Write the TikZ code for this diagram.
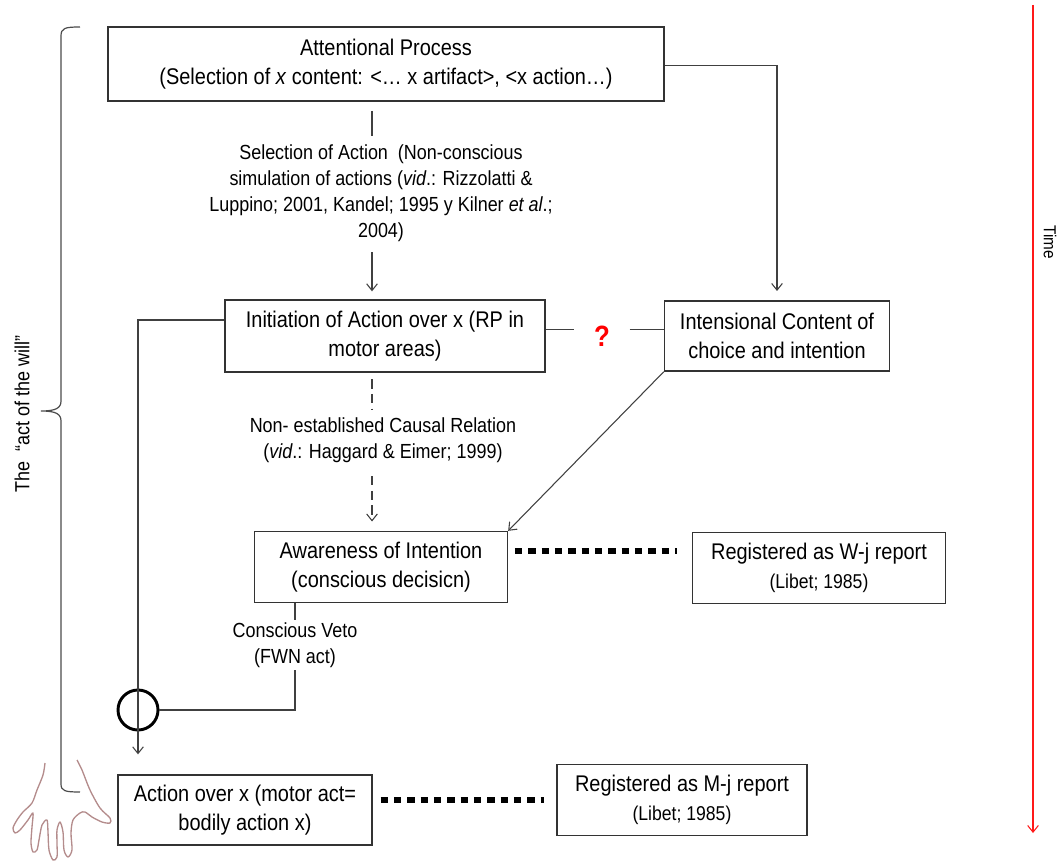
\documentclass[tikz,border=0pt]{standalone}
\usepackage{fontspec}
\setmainfont[FakeStretch=0.88]{Liberation Sans}
\usetikzlibrary{arrows.meta}

\newcommand{\boxfont}{\fontsize{17}{22}\selectfont}
\newcommand{\lblfont}{\fontsize{15.3}{19.5}\selectfont}
\newcommand{\citefont}{\fontsize{15}{18.5}\selectfont}

\begin{document}
\begin{tikzpicture}
[x=0.75pt,y=-0.75pt,
  >={Straight Barb[length=5pt,width=8pt]},
  plainLine/.style={line width=0.8pt,draw=black!75},
  darkArrow/.style={->,line width=0.8pt,draw=black!75},
  dashArrow/.style={line width=0.8pt,draw=black!75,dash pattern=on 7pt off 4pt},
  dotLine/.style={line width=4.5pt,draw=black,dash pattern=on 5.5pt off 4.5pt},
  boxDecorate/.style={draw=black!80,line width=1pt,fill=white,align=center,inner sep=0pt,font=\boxfont},
  labelDecorate/.style={align=center,inner sep=2pt,font=\lblfont},
  gateDecorate/.style={shape=circle,draw=black,line width=2.2pt,minimum size=30pt,inner sep=0pt},
  timeArrow/.style={->,line width=0.8pt,draw=red!90!white},
  braceLine/.style={line width=0.9pt,draw=black!70},
  handLine/.style={line width=1pt,draw={rgb,255:red,180;green,140;blue,140},line join=round}]
\useasboundingbox (0,0) rectangle (1063,862);
%% boxes
\foreach \nodename/\x/\y/\w/\h/\txt in {
  attn/386/64/556/74/{Attentional Process\\(Selection of \textit{x} content: <… x artifact>, <x action…)},
  init/385/336/320/72/{Initiation of Action over x (RP in\\motor areas)},
  intens/777/336/225/70/{Intensional Content of\\choice and intention},
  aware/381/567/253/71/{Awareness of Intention\\(conscious decisicn)},
  wj/819/568/253/71/{Registered as W-j report\\{\citefont(Libet; 1985)}},
  action/245/810/254/70/{Action over x (motor act=\\bodily action x)},
  mj/682/800/250/71/{Registered as M-j report\\{\citefont(Libet; 1985)}}}
{
  \node (\nodename) at (\x,\y) [boxDecorate,minimum width=\w*0.75pt,minimum height=\h*0.75pt] {\txt};
}
%% labels on the connectors
\foreach \nodename/\x/\y/\txt in {
  selLbl/381/193/{Selection of Action\ \ (Non-conscious\\simulation of actions (\textit{vid}.: Rizzolatti \&\\Luppino; 2001, Kandel; 1995 y Kilner \textit{et al}.;\\2004)},
  causLbl/383/440/{Non- established Causal Relation\\(\textit{vid}.: Haggard \& Eimer; 1999)},
  vetoLbl/295/645/{Conscious Veto\\(FWN act)}}
{
  \node (\nodename) at (\x,\y) [labelDecorate] {\txt};
}
\node (qmark) at (602,336) [minimum width=41pt,inner sep=0pt,text=red,font=\fontsize{22}{22}\bfseries] {?};
\node (gate) at (138,710) [gateDecorate] {};
\coordinate (spine) at (372,0);
%% plain and dashed connectors
\draw[plainLine] ([yshift=-7pt]attn.south -| spine) -- ([yshift=4pt]selLbl.north -| spine);
\draw[darkArrow,shorten >=6pt] ([yshift=-6pt]selLbl.south -| spine) -- (init.north -| spine);
\draw[darkArrow,shorten >=7pt] ([yshift=-1pt]attn.east) -| (intens.north);
\draw[plainLine] ([yshift=5pt]init.east) -- ([yshift=5pt]qmark.west);
\draw[plainLine] ([yshift=5pt]qmark.east) -- ([yshift=5pt]intens.west);
\draw[dashArrow] ([yshift=-5pt]init.south -| spine) -- ([yshift=4pt]causLbl.north -| spine);
\draw[dashArrow,->,shorten >=7pt] ([yshift=-8pt]causLbl.south -| spine) -- (aware.north -| spine);
\draw[darkArrow] (intens.south west) -- (aware.north east);
\draw[darkArrow,shorten >=15pt] ([yshift=12pt]init.west) -| (gate.north) -- (gate.center |- action.north);
\draw[plainLine] (aware.south -| vetoLbl) -- (vetoLbl.north);
\draw[plainLine] (vetoLbl.south) |- (gate.east);
%% dotted connectors
\draw[dotLine,shorten <=5pt,shorten >=11pt] ([yshift=12pt]aware.east) -- ([yshift=12pt]aware.east -| wj.west);
\draw[dotLine,shorten <=6pt,shorten >=9pt] (action.east |- mj.west) -- (mj.west);
%% time and brace
\coordinate (timeTop) at (1033,5);
\coordinate (timeEnd) at (1033,833);
\draw[timeArrow] (timeTop) -- (timeEnd);
\node (timeLbl) at (1050,242) [rotate=-90,font=\fontsize{13}{15}\selectfont] {Time};
\draw[braceLine] (80,27) .. controls (65,27) and (61,28) .. (61,36) -- (61,401)
  .. controls (61,408) and (56,411) .. (41,411) .. controls (56,411) and (61,414) .. (61,421)
  -- (61,784) .. controls (61,791) and (65,792) .. (80,792);
\node (willLbl) at (22,414) [rotate=90,labelDecorate] {The\ \ ``act of the will''};
%% hand
\draw[handLine] plot[smooth,tension=0.5] coordinates {
  (45,763) (43,775) (37,790) (32,803) (23,812) (17,820) (13,828) (15,833) (20,830) (28,820) (33,813)
  (32,827) (31,843) (33,852) (37,850) (39,840) (42,825) (47,820)
  (48,832) (49,850) (53,860) (57,857) (57,843) (57,830) (60,822)
  (63,832) (64,850) (68,857) (72,850) (71,833) (73,820)
  (80,813) (85,812) (92,817) (102,822) (110,823) (110,818) (100,808) (90,790) (82,770) (77,760)};
\end{tikzpicture}
\end{document}
